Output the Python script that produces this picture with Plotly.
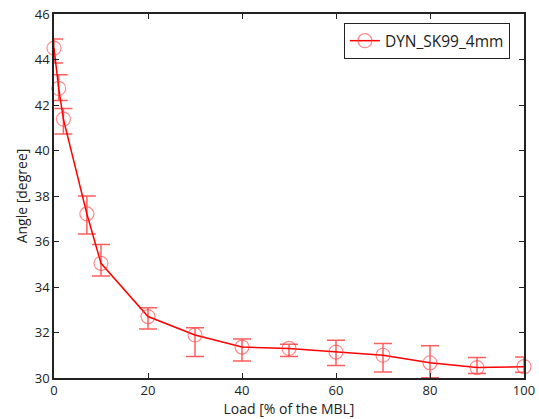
import plotly.graph_objects as go

load = [0, 1, 2, 7, 10, 20, 30, 40, 50, 60, 70, 80, 90, 100]
angle = [44.5, 42.73, 41.38, 37.21, 35.04, 32.7, 31.89, 31.36, 31.3, 31.14, 31.0, 30.67, 30.46, 30.5]
err_top = [44.9, 43.33, 41.85, 38.0, 35.87, 33.09, 32.21, 31.71, 31.48, 31.66, 31.52, 31.42, 30.9, 30.92]
err_bot = [43.85, 42.2, 40.73, 36.33, 34.48, 32.15, 30.94, 30.75, 30.95, 30.55, 30.26, 30.01, 30.2, 30.25]

plus = [t - a for t, a in zip(err_top, angle)]
minus = [a - b for a, b in zip(angle, err_bot)]

fig = go.Figure()
fig.add_trace(go.Scatter(
    x=load, y=angle, mode="lines+markers", name="DYN_SK99_4mm",
    line=dict(color="#ff0000", width=1.5),
    marker=dict(symbol="circle-open", size=14, color="rgba(255,60,60,0.6)",
                line=dict(width=1.2, color="rgba(255,60,60,0.6)")),
    error_y=dict(type="data", symmetric=False, array=plus, arrayminus=minus,
                 color="rgba(255,40,40,0.75)", thickness=1.5, width=9),
    cliponaxis=False,
))

axis_common = dict(showline=True, linecolor="#222", linewidth=1.5, mirror="ticks",
                   ticks="inside", ticklen=5, tickcolor="#222", showgrid=False,
                   zeroline=False, automargin=False,
                   tickfont=dict(family="Open Sans", size=13, color="#222"))
fig.update_layout(
    width=539, height=419,
    margin=dict(l=54, r=15, t=14, b=41, autoexpand=False),
    plot_bgcolor="white", paper_bgcolor="white",
    font=dict(family="Open Sans", color="#222"),
    xaxis=dict(range=[0, 100], dtick=20,
               title=dict(text="Load [% of the MBL]", font=dict(size=14), standoff=2), **axis_common),
    yaxis=dict(range=[30, 46], dtick=2,
               title=dict(text="Angle [degree]", font=dict(size=14), standoff=4), **axis_common),
    legend=dict(x=0.97, y=0.975, xanchor="right", yanchor="top", bordercolor="#222",
                borderwidth=1, bgcolor="white", font=dict(size=15.5)),
    showlegend=True,
)
fig.write_html("out.html")
